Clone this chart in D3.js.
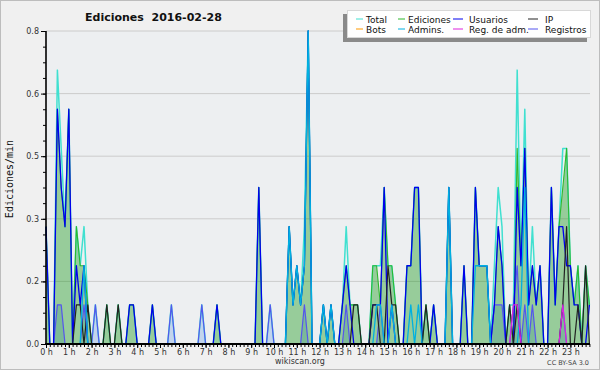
<!DOCTYPE html>
<html>
<head>
<meta charset="utf-8">
<script src="https://cdnjs.cloudflare.com/ajax/libs/d3/7.8.5/d3.min.js"></script>
<style>
  body { margin: 0; background: #f0f0f0; }
  svg { display: block; font-family: "DejaVu Sans", Verdana, sans-serif; }
</style>
</head>
<body>
<svg width="600" height="370"></svg>
<script>
// one value per 10 minutes (144 bins), in edits per minute
var totalVals = [
  .3,0,0,.7,.5,.3,.6,0,.3,.2,.3,.1,
  0,.1,0,0,.1,0,0,.1,0,0,.1,.1,
  0,0,0,0,.1,0,0,0,0,.1,0,0,
  0,0,0,0,0,.1,0,0,0,.1,0,0,
  0,0,0,0,0,0,0,0,.4,0,0,.1,
  0,0,0,0,.3,.1,.2,.1,.3,.8,0,0,
  0,.1,0,.1,0,0,.1,.3,.1,.1,.1,0,
  0,0,.2,.2,.2,.4,.2,.2,.1,0,0,.2,
  .2,.4,.4,0,.1,0,.1,0,0,0,.4,0,
  0,0,.2,0,0,.4,.2,.2,.2,0,.2,.4,
  .3,0,.1,.1,.7,.2,.6,.1,.3,.1,.2,0,
  0,.4,.1,.3,.5,.5,.2,.1,.2,0,.2,.1 ];

var editVals = [
  .3,0,0,.6,.4,.3,.6,0,.3,.2,.2,.1,
  0,0,0,0,.1,0,0,.1,0,0,.1,.1,
  0,0,0,0,.1,0,0,0,0,0,0,0,
  0,0,0,0,0,0,0,0,0,.1,0,0,
  0,0,0,0,0,0,0,0,.4,0,0,0,
  0,0,0,0,.3,.1,.2,.1,.2,.8,0,0,
  0,.1,0,.1,0,0,.1,.2,.1,.1,.1,0,
  0,0,.2,.2,.1,.4,.2,.2,.1,0,0,.2,
  .2,.4,.4,0,.1,0,.1,0,0,0,.4,0,
  0,0,.2,0,0,.4,.2,.2,.2,0,.1,.3,
  .2,0,.1,0,.5,.2,.5,.1,.2,.1,.2,0,
  0,.4,.1,.3,.4,.5,.2,.1,.2,0,.2,.1 ];

var userVals = [
  .3,0,0,.6,.4,.3,.6,0,.2,.1,.2,0,
  0,0,0,0,0,0,0,0,0,0,.1,.1,
  0,0,0,0,.1,0,0,0,0,0,0,0,
  0,0,0,0,0,0,0,0,0,.1,0,0,
  0,0,0,0,0,0,0,0,.4,0,0,0,
  0,0,0,0,.3,.1,.2,.1,.2,.8,0,0,
  0,.1,0,.1,0,0,.1,.2,.1,0,0,0,
  0,0,.1,.1,.1,.4,0,.1,0,0,0,.2,
  .2,.4,.4,0,0,0,.1,0,0,0,.4,0,
  0,0,.2,0,0,.4,.2,.2,.2,0,.1,.3,
  .2,0,0,0,.4,.2,.5,.1,.2,.1,.2,0,
  0,.4,.1,.3,.3,.2,.2,.1,.1,0,0,.1 ];

var ipVals = [
  0,0,0,0,0,0,0,0,.1,.1,0,.1,
  0,0,0,0,.1,0,0,.1,0,0,0,0,
  0,0,0,0,0,0,0,0,0,0,0,0,
  0,0,0,0,0,0,0,0,0,0,0,0,
  0,0,0,0,0,0,0,0,0,0,0,0,
  0,0,0,0,0,0,0,0,0,0,0,0,
  0,0,0,0,0,0,0,0,0,.1,.1,0,
  0,0,.1,.1,0,0,.2,.1,.1,0,0,0,
  0,0,0,0,.1,0,0,0,0,0,0,0,
  0,0,0,0,0,0,0,0,0,0,0,0,
  0,0,.1,0,.1,0,0,0,0,0,0,0,
  0,0,0,0,.1,.3,0,0,.1,0,.2,0 ];

var botVals = [
  0,0,0,0,0,0,0,0,0,0,0,0,
  0,0,0,0,0,0,0,0,0,0,0,0,
  0,0,0,0,0,0,0,0,0,0,0,0,
  0,0,0,0,0,0,0,0,0,0,0,0,
  0,0,0,0,0,0,0,0,0,0,0,0,
  0,0,0,0,0,0,0,0,0,0,0,0,
  0,0,0,0,0,0,0,0,0,0,0,0,
  0,0,0,0,0,0,0,0,0,0,0,0,
  0,0,0,0,0,0,0,0,0,0,0,0,
  0,0,0,0,0,0,0,0,0,0,0,0,
  0,0,0,0,0,0,0,0,0,0,0,0,
  0,0,0,0,0,0,0,0,0,0,0,0 ];

var adminVals = [
  0,0,0,0,0,0,0,0,0,0,.2,0,
  0,0,0,0,0,0,0,0,0,0,0,0,
  0,0,0,0,0,0,0,0,0,0,0,0,
  0,0,0,0,0,0,0,0,0,0,0,0,
  0,0,0,0,0,0,0,0,0,0,0,0,
  0,0,0,0,.3,.1,.2,.1,.2,.8,0,0,
  0,.1,0,.1,0,0,0,0,0,0,0,0,
  0,0,0,.1,.1,0,0,.1,0,0,0,0,
  .1,0,.1,0,0,0,0,0,0,0,.4,0,
  0,0,0,0,0,.2,.2,.2,.2,0,0,0,
  0,0,0,0,0,.1,.4,0,0,0,0,0,
  0,0,0,0,0,0,0,0,0,0,0,0 ];

var adminLogVals = [
  0,0,0,0,0,0,0,0,0,0,0,0,
  0,0,0,0,0,0,0,0,0,0,0,0,
  0,0,0,0,0,0,0,0,0,0,0,0,
  0,0,0,0,0,0,0,0,0,0,0,0,
  0,0,0,0,0,0,0,0,0,0,0,0,
  0,0,0,0,0,0,0,0,0,0,0,0,
  0,0,0,0,0,0,0,0,0,0,0,0,
  0,0,0,0,0,0,0,0,0,0,0,0,
  0,0,0,0,0,0,0,0,0,0,0,0,
  0,0,0,0,0,0,0,0,0,0,0,0,
  0,0,0,.1,.1,0,0,0,0,0,0,0,
  0,0,0,0,.1,0,0,0,0,0,0,0 ];

var logVals = [
  0,0,0,.1,.1,0,0,0,0,0,.1,0,
  0,.1,0,0,0,0,0,0,0,0,0,0,
  0,0,0,0,0,0,0,0,0,.1,0,0,
  0,0,0,0,0,.1,0,0,0,0,0,0,
  0,0,0,0,0,0,0,0,0,0,0,.1,
  0,0,0,0,0,0,0,0,.1,0,0,0,
  0,0,0,0,0,0,0,.1,0,0,0,0,
  0,0,0,0,.1,0,0,0,0,0,0,0,
  0,0,0,0,0,0,0,0,0,0,0,0,
  0,0,0,0,0,0,0,0,0,0,.1,.1,
  .1,0,0,.1,.2,0,.1,0,.1,0,0,0,
  0,0,0,0,.1,0,0,0,0,0,0,0 ];

var hourLabels = ['0 h','1 h','2 h','3 h','4 h','5 h','6 h','7 h','8 h','9 h','10 h','11 h',
                  '12 h','13 h','14 h','15 h','16 h','17 h','18 h','19 h','20 h','21 h','22 h','23 h'];
var yTicks = [0, 0.16, 0.32, 0.48, 0.64, 0.8];

var legendNames  = ['Total','Ediciones','Usuarios','IP','Bots','Admins.','Reg. de adm.','Registros'];
var legendColors = ['#40e0d0','#2db82d','#0000ee','#222222','#ff9900','#00b0e0','#dd22dd','#5555ee'];

var plotLeft = 46, plotRight = 590, plotTop = 31, plotBottom = 344;

var svg = d3.select('svg');

svg.append('rect').attr('x', 0.5).attr('y', 0.5).attr('width', 599).attr('height', 369)
   .attr('fill', '#f0f0f0').attr('stroke', '#bdbdbd');
svg.append('rect').attr('x', plotLeft).attr('y', plotTop)
   .attr('width', plotRight - plotLeft).attr('height', plotBottom - plotTop)
   .attr('fill', '#edeff1');

// x in hours, one point every 10 minutes
var x = d3.scaleLinear().domain([0, 24]).range([plotLeft, plotLeft + 24 * 22.8]);
var y = d3.scaleLinear().domain([0, 0.8]).range([plotBottom, plotTop]);
var px = function (d, i) { return x(i / 6); };

// grid
svg.append('g').selectAll('line').data(yTicks).enter().append('line')
   .attr('x1', plotLeft).attr('x2', plotRight)
   .attr('y1', function (d) { return y(d); }).attr('y2', function (d) { return y(d); })
   .attr('stroke', '#cccccc').attr('stroke-width', 1);

var area = d3.area().x(px).y0(y(0)).y1(function (d) { return y(d); });
var line = d3.line().x(px).y(function (d) { return y(d); });

svg.append('path').datum(logVals).attr('d', area).attr('fill', 'rgba(100,150,230,0.3)');
svg.append('path').datum(editVals).attr('d', area).attr('fill', 'rgba(0,140,0,0.36)');

function drawLine(vals, color, w) {
  svg.append('path').datum(vals).attr('d', line)
     .attr('fill', 'none').attr('stroke', color).attr('stroke-width', w)
     .attr('stroke-linejoin', 'round');
}
drawLine(totalVals, legendColors[0], 1.5);
drawLine(editVals, legendColors[1], 1.1);
drawLine(logVals, legendColors[7], 1.2);
drawLine(userVals, legendColors[2], 1.3);
drawLine(ipVals, legendColors[3], 1.2);
drawLine(botVals, legendColors[4], 1.2);
drawLine(adminVals, legendColors[5], 1.3);
drawLine(adminLogVals, legendColors[6], 1.2);

// y axis
var yAxis = d3.axisLeft(y).tickValues(yTicks).tickFormat(d3.format('.1f')).tickSize(5).tickPadding(2);
var yMinor = d3.axisLeft(y).tickValues(d3.range(0, 0.801, 0.04)).tickFormat('').tickSize(3);
var gy = svg.append('g').attr('transform', 'translate(' + plotLeft + ',0)');
gy.call(yMinor);
gy.append('g').call(yAxis);
gy.selectAll('.domain').remove();
gy.selectAll('text').attr('font-size', 8).attr('fill', '#333').attr('font-family', '"DejaVu Sans", sans-serif');
svg.append('line').attr('x1', plotLeft).attr('x2', plotLeft).attr('y1', plotTop).attr('y2', plotBottom + 1)
   .attr('stroke', '#000').attr('stroke-width', 1.6);

// x axis
var xAxis = d3.axisBottom(x).tickValues(d3.range(24)).tickFormat(function (d) { return hourLabels[d]; })
              .tickSize(4).tickPadding(1);
var xMinor = d3.axisBottom(x).tickValues(d3.range(0, 144).map(function (i) { return i / 6; }))
               .tickFormat('').tickSize(3);
var gx = svg.append('g').attr('transform', 'translate(0,' + plotBottom + ')');
gx.call(xMinor);
gx.append('g').call(xAxis);
gx.selectAll('.domain').remove();
gx.selectAll('line').attr('stroke-width', 1);
gx.selectAll('text').attr('font-size', 8).attr('fill', '#333').attr('font-family', '"DejaVu Sans", sans-serif');
svg.append('line').attr('x1', plotLeft - 1).attr('x2', plotRight).attr('y1', plotBottom).attr('y2', plotBottom)
   .attr('stroke', '#000').attr('stroke-width', 2);

// titles
svg.append('text').attr('x', 85).attr('y', 21).attr('font-size', 11).attr('font-weight', 'bold')
   .attr('fill', '#111').style('white-space', 'pre').text('Ediciones  2016-02-28');
svg.append('text').attr('transform', 'translate(13,179) rotate(-90)').attr('text-anchor', 'middle')
   .attr('font-family', '"DejaVu Sans Mono", monospace').attr('font-size', 10).attr('fill', '#111')
   .text('Ediciones/min');
svg.append('text').attr('x', 300).attr('y', 364).attr('text-anchor', 'middle').attr('font-size', 8)
   .attr('fill', '#333').text('wikiscan.org');
svg.append('text').attr('x', 589).attr('y', 365).attr('text-anchor', 'end').attr('font-size', 6.5)
   .attr('fill', '#444').text('CC BY-SA 3.0');

// legend
var lg = svg.append('g');
lg.append('rect').attr('x', 343).attr('y', 14).attr('width', 244).attr('height', 28).attr('fill', '#8a8a8a');
lg.append('rect').attr('x', 347.5).attr('y', 10.5).attr('width', 243).attr('height', 27)
  .attr('fill', '#ffffff').attr('stroke', '#d8d8d8');
var colSwatch = [356, 398, 453, 528], colSwatchLen = [7, 7, 10, 10], colText = [366, 408, 469, 545];
var rowY = [19, 29];
legendNames.forEach(function (name, i) {
  var c = i % 4, r = Math.floor(i / 4);
  lg.append('line').attr('x1', colSwatch[c]).attr('x2', colSwatch[c] + colSwatchLen[c])
    .attr('y1', rowY[r]).attr('y2', rowY[r]).attr('stroke', legendColors[i]).attr('stroke-width', 1);
  lg.append('text').attr('x', colText[c]).attr('y', rowY[r] + 3.8).attr('font-size', 9)
    .attr('fill', '#111').text(name);
});
</script>
</body>
</html>
